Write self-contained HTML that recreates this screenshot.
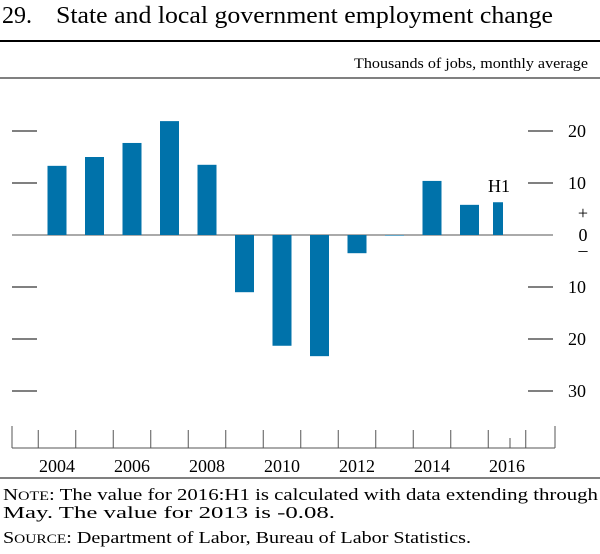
<!DOCTYPE html>
<html><head><style>
body{margin:0;background:#fff;font-family:"Liberation Serif",serif;}
svg text{font-family:"Liberation Serif",serif;fill:#000;}
</style></head><body>
<svg width="600" height="549">
<text x="2" y="23" font-size="24">29.</text>
<text x="56" y="23" font-size="24" textLength="497" lengthAdjust="spacingAndGlyphs">State and local government employment change</text>
<line x1="0" y1="41" x2="600" y2="41" stroke="#000" stroke-width="2"/>
<text x="354" y="68" font-size="15" textLength="234" lengthAdjust="spacingAndGlyphs">Thousands of jobs, monthly average</text>
<line x1="0" y1="78" x2="600" y2="78" stroke="#000" stroke-width="1"/>
<g id="yaxis"></g>
<g id="bars"></g>
<g id="xaxis"></g>
<line x1="0" y1="478" x2="600" y2="478" stroke="#000" stroke-width="1"/>
<text x="3" y="500" font-size="17" textLength="595" lengthAdjust="spacingAndGlyphs">N<tspan font-size="13">OTE</tspan>: The value for 2016:H1 is calculated with data extending through</text>
<text x="3" y="518" font-size="17" textLength="332" lengthAdjust="spacingAndGlyphs">May. The value for 2013 is -0.08.</text>
<text x="3" y="543" font-size="17" textLength="468" lengthAdjust="spacingAndGlyphs">S<tspan font-size="13">OURCE</tspan>:  Department of Labor, Bureau of Labor Statistics.</text>
</svg>
<script>
const categories=["2004","2005","2006","2007","2008","2009","2010","2011","2012","2013","2014","2015","2016 H1"];
const values=[13.3,15.0,17.7,21.9,13.5,-11.0,-21.3,-23.3,-3.5,-0.08,10.4,5.8,6.3];
const yTicks=[20,10,-10,-20,-30];
const yTickLabels=["20","10","10","20","30"];
const xLabels=["2004","2006","2008","2010","2012","2014","2016"];
const NS="http://www.w3.org/2000/svg";
function y(v){return 235-v*5.2;}
function bx(i){return 57+i*37.5;}
function ax(yr){return 57+(yr-2004)*37.5;}
function mk(t,a,p){const e=document.createElementNS(NS,t);for(const k in a)e.setAttribute(k,a[k]);p.appendChild(e);return e;}
const ya=document.getElementById('yaxis'),bg=document.getElementById('bars'),xa=document.getElementById('xaxis');
yTicks.forEach((v,i)=>{
 const l=mk('line',{x1:12,x2:37,y1:y(v),y2:y(v),stroke:'#000'},ya);
 
 
 const r=mk('line',{x1:528,x2:553,y1:y(v),y2:y(v),stroke:'#000'},ya);
 
 
 const t=mk('text',{x:568,y:y(v)+6,'font-size':18},ya);t.textContent=yTickLabels[i];
 
 
});
[["+",219],["0",241],["\u2013",256]].forEach(a=>{const t=mk('text',{x:583,y:a[1],'font-size':18,'text-anchor':'middle'},ya);t.textContent=a[0];
 
 });
mk('line',{x1:12,x2:553,y1:235,y2:235,stroke:'#555'},ya);
values.forEach((v,i)=>{
 const w=i===12?10:19;const cx=i===12?498:bx(i);
 const top=Math.min(y(v),y(0)),h=Math.max(Math.abs(y(v)-y(0)),0.6);
 const r=mk('rect',{x:cx-w/2,y:top,width:w,height:h,fill:'#0072aa'},bg);
 
 
});
const h1=mk('text',{x:499,y:192,'font-size':18,'text-anchor':'middle'},bg);h1.textContent="H1";


mk('line',{x1:12,x2:555,y1:448,y2:448,stroke:'#555'},xa);
mk('line',{x1:12,x2:12,y1:426,y2:448,stroke:'#555'},xa);
mk('line',{x1:555,x2:555,y1:426,y2:448,stroke:'#555'},xa);
for(let yr=2004;yr<=2017;yr++){mk('line',{x1:ax(yr)-18.75,x2:ax(yr)-18.75,y1:430,y2:448,stroke:'#555'},xa);}
mk('line',{x1:510,x2:510,y1:438,y2:448,stroke:'#555'},xa);
xLabels.forEach(s=>{const t=mk('text',{x:ax(+s),y:472,'font-size':18,'text-anchor':'middle'},xa);t.textContent=s;
 
 });
</script>
</body></html>
